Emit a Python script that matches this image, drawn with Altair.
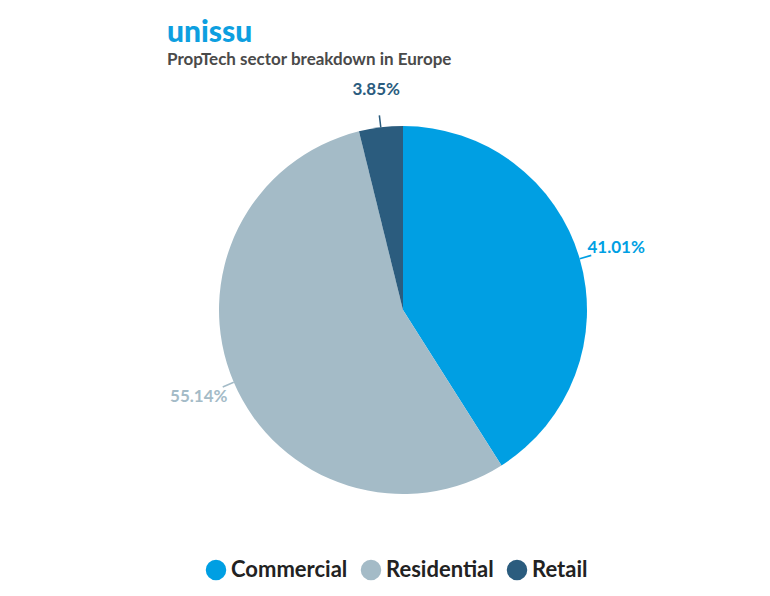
import altair as alt
import pandas as pd

categories = ["Commercial", "Residential", "Retail"]
shares = [41.01, 55.14, 3.85]
labels = ["41.01%", "55.14%", "3.85%"]
colors = ["#009FE3", "#A4BBC7", "#2B5C7E"]

df = pd.DataFrame({"sector": categories, "share": shares, "label": labels})

CX, CY, R = 395, 232, 184

color = alt.Color("sector:N", scale=alt.Scale(domain=categories, range=colors),
                  sort=categories,
                  legend=alt.Legend(orient="none", legendX=197, legendY=481,
                                    direction="horizontal", title=None,
                                    symbolType="circle", symbolSize=420,
                                    symbolStrokeWidth=0, labelFont="Lato",
                                    labelFontSize=22, labelFontWeight="bold",
                                    labelColor="#222222", columnPadding=12,
                                    labelOffset=4))

base = alt.Chart(df).encode(
    theta=alt.Theta("share:Q", stack=True),
    color=color,
    order=alt.Order("sector:N"),
)

pie = base.mark_arc(outerRadius=R, stroke=None).encode(
    x=alt.value(CX), y=alt.value(CY))

text = base.mark_text(radius=R + 38, font="Lato", fontSize=17, fontWeight="bold").encode(
    x=alt.value(CX), y=alt.value(CY), text="label:N",
    color=alt.Color("sector:N", scale=alt.Scale(domain=categories, range=colors), legend=None))

leaders = alt.Chart(df).transform_joinaggregate(
    total="sum(share)"
).transform_window(
    cum="sum(share)", sort=[alt.SortField("sector")]
).transform_calculate(
    t0="(datum.cum - datum.share/2)/datum.total*2*PI - 0.004",
    t1="(datum.cum - datum.share/2)/datum.total*2*PI + 0.004",
).mark_arc(radius=R + 12, radius2=R).encode(
    theta=alt.Theta("t0:Q", scale=None),
    theta2="t1:Q",
    x=alt.value(CX), y=alt.value(CY),
    color=alt.Color("sector:N", scale=alt.Scale(domain=categories, range=colors), legend=None),
)

chart = alt.layer(pie, leaders, text).properties(
    width=754, height=510,
    padding={"top": 10, "left": 0, "right": 0, "bottom": 0},
    title=alt.Title("unissu", subtitle="PropTech sector breakdown in Europe",
                    anchor="start", dx=159, font="Lato", fontSize=30,
                    fontWeight=900, color="#0D9FE0", subtitleFont="Lato",
                    subtitleFontSize=17, subtitleFontWeight="bold",
                    subtitleColor="#4A4A4A", subtitlePadding=4, offset=10),
).configure_view(stroke=None)

chart.save("out.html", embed_options={"renderer": "svg", "actions": False})
